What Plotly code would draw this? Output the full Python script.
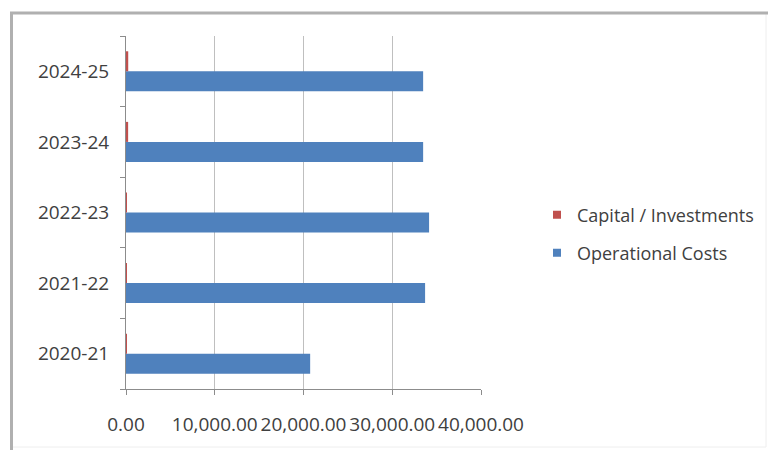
import plotly.graph_objects as go

years = ["2020-21", "2021-22", "2022-23", "2023-24", "2024-25"]
operational = [20750, 33700, 34150, 33480, 33480]
capital = [80, 90, 100, 240, 250]
x_ticks = [0, 10000, 20000, 30000, 40000]

BLUE = "#4F81BD"
RED = "#C0504D"
FONT = "Open Sans"
TXT = "#404040"

W, H = 768, 450
L, R, T, B = 126, 481, 36, 389  # plot area in pixels
pw, ph = R - L, B - T

def px(x):
    return (x - L) / pw

def py(y):
    return (B - y) / ph

fig = go.Figure()
fig.add_trace(go.Bar(y=years, x=operational, orientation="h", name="Operational Costs",
                     marker=dict(color=BLUE, line=dict(width=0)), showlegend=False))
fig.add_trace(go.Bar(y=years, x=capital, orientation="h", name="Capital / Investments",
                     marker=dict(color=RED, line=dict(width=0)), showlegend=False))
# legend entries
fig.add_trace(go.Scatter(x=[None], y=[None], mode="markers", name="Capital / Investments",
                         marker=dict(symbol="square", size=8, color=RED), legend="legend"))
fig.add_trace(go.Scatter(x=[None], y=[None], mode="markers", name="Operational Costs",
                         marker=dict(symbol="square", size=8, color=BLUE), legend="legend2"))

legend_common = dict(xanchor="left", yanchor="middle", bgcolor="rgba(0,0,0,0)",
                     font=dict(family=FONT, size=18, color=TXT), itemwidth=30)
fig.update_layout(
    width=W, height=H,
    margin=dict(l=L, r=W - R, t=T, b=H - B, autoexpand=False),
    paper_bgcolor="white", plot_bgcolor="white",
    barmode="group", bargap=0.433, bargroupgap=0,
    legend=dict(x=px(537), y=py(215), **legend_common),
    legend2=dict(x=px(537), y=py(253), **legend_common),
    xaxis=dict(range=[0, 40000], tickvals=x_ticks, tickformat=",.2f",
               showgrid=True, gridcolor="#BFBFBF", gridwidth=1,
               showline=True, linecolor="#8C8C8C", linewidth=1,
               ticks="outside", ticklen=5, tickcolor="#8C8C8C",
               ticklabelstandoff=13, zeroline=False,
               tickfont=dict(family=FONT, size=19, color=TXT), fixedrange=True),
    yaxis=dict(type="category", categoryorder="array", categoryarray=years,
               showline=True, linecolor="#8C8C8C", linewidth=1,
               ticks="outside", ticklen=5, tickcolor="#8C8C8C", tickson="boundaries",
               ticklabelstandoff=12, showgrid=False,
               tickfont=dict(family=FONT, size=19, color=TXT), fixedrange=True),
    shapes=[
        dict(type="rect", xref="paper", yref="paper",
             x0=px(11), x1=px(766), y0=py(447), y1=py(13),
             line=dict(color="#EEEEEE", width=1), layer="below"),
        dict(type="line", xref="paper", yref="paper",
             x0=px(10), x1=px(768), y0=py(13), y1=py(13),
             line=dict(color="#B0B0B0", width=3), layer="below"),
        dict(type="line", xref="paper", yref="paper",
             x0=px(11.5), x1=px(11.5), y0=py(450), y1=py(12),
             line=dict(color="#B0B0B0", width=3), layer="below"),
    ],
)

fig.write_html("out.html")
